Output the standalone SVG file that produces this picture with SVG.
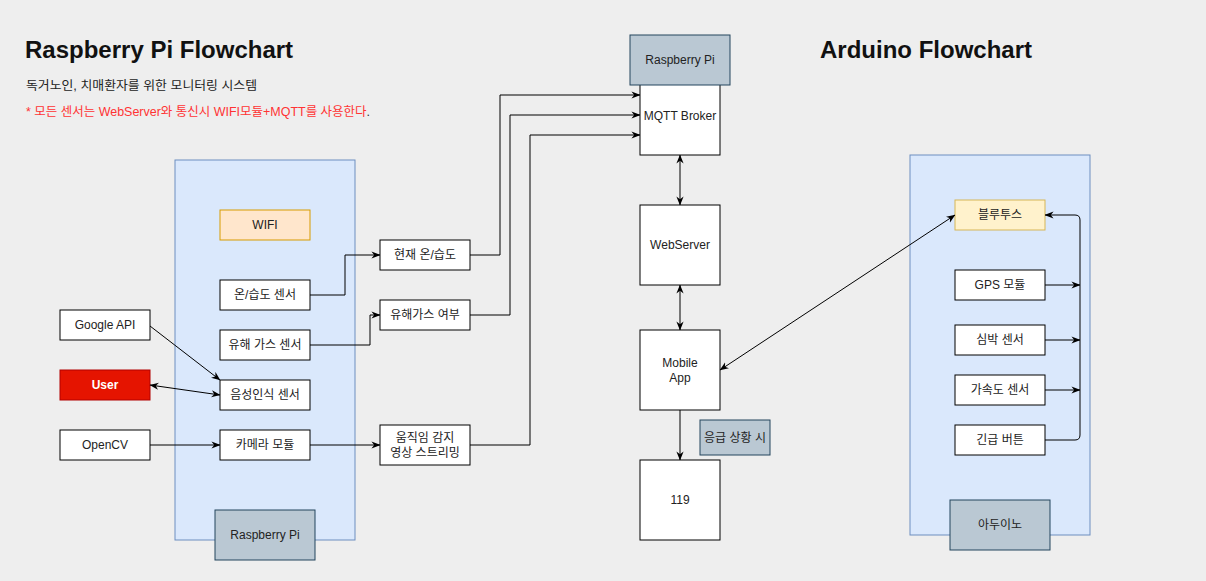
<svg xmlns="http://www.w3.org/2000/svg" width="1206" height="581" viewBox="0 0 1206 581">
<defs>
<marker id="arr" viewBox="0 0 10 10" refX="9.5" refY="5" markerWidth="9" markerHeight="9" markerUnits="userSpaceOnUse" orient="auto-start-reverse">
<path d="M0,1 L10,5 L0,9 L3,5 z" fill="#000"/>
</marker>
<style>
text{font-family:"Liberation Sans","Noto Sans CJK KR",Arial,sans-serif;font-size:12px;fill:#222;}
.lbl{text-anchor:middle;dominant-baseline:central;}
.box{fill:#fff;stroke:#000;stroke-width:1;}
.cont{fill:#dae8fc;stroke:#6c8ebf;stroke-width:1;}
.gray{fill:#bac8d3;stroke:#23445d;stroke-width:1;}
.con{fill:none;stroke:#000;stroke-width:1;}
.title{font-size:24px;font-weight:bold;fill:#111;}
</style>
</defs>
<rect x="0" y="0" width="1206" height="581" fill="#eeeeee"/>

<g id="titles">
<text class="title" x="25" y="58">Raspberry Pi Flowchart</text>
<text class="title" x="820" y="58">Arduino Flowchart</text>
<text x="26" y="90" style="font-size:12.5px" textLength="231" lengthAdjust="spacingAndGlyphs">독거노인, 치매환자를 위한 모니터링 시스템</text>
<text x="26" y="116" style="fill:#ff3333;font-size:12.5px" textLength="344" lengthAdjust="spacingAndGlyphs">* 모든 센서는 WebServer와 통신시 WIFI모듈+MQTT를 사용한다<tspan style="fill:#333">.</tspan></text>
</g>

<g id="rpi-container"><rect class="cont" x="175" y="160" width="180" height="380"/></g>
<g id="ard-container"><rect class="cont" x="910" y="155" width="180" height="380"/></g>

<g id="wifi"><rect x="220" y="210" width="90" height="30" fill="#ffe6cc" stroke="#d79b00"/><text class="lbl" x="265" y="225">WIFI</text></g>
<g id="temp-sensor"><rect class="box" x="220" y="280" width="90" height="30"/><text class="lbl" x="265" y="295">온/습도 센서</text></g>
<g id="gas-sensor"><rect class="box" x="220" y="330" width="90" height="30"/><text class="lbl" x="265" y="345">유해 가스 센서</text></g>
<g id="voice-sensor"><rect class="box" x="220" y="380" width="90" height="30"/><text class="lbl" x="265" y="395">음성인식 센서</text></g>
<g id="camera"><rect class="box" x="220" y="430" width="90" height="30"/><text class="lbl" x="265" y="445">카메라 모듈</text></g>
<g id="google-api"><rect class="box" x="60" y="310" width="90" height="30"/><text class="lbl" x="105" y="325">Google API</text></g>
<g id="user"><rect x="60" y="370" width="90" height="30" fill="#e51400" stroke="#b20000"/><text class="lbl" x="105" y="385" style="fill:#fff;font-weight:bold">User</text></g>
<g id="opencv"><rect class="box" x="60" y="430" width="90" height="30"/><text class="lbl" x="105" y="445">OpenCV</text></g>
<g id="rpi-label"><rect class="gray" x="215" y="510" width="100" height="50"/><text class="lbl" x="265" y="535">Raspberry Pi</text></g>

<g id="cur-temp"><rect class="box" x="380" y="240" width="90" height="30"/><text class="lbl" x="425" y="255">현재 온/습도</text></g>
<g id="gas-status"><rect class="box" x="380" y="300" width="90" height="30"/><text class="lbl" x="425" y="315">유해가스 여부</text></g>
<g id="motion"><rect class="box" x="380" y="425" width="90" height="40"/><text class="lbl" x="425" y="438">움직임 감지</text><text class="lbl" x="425" y="453">영상 스트리밍</text></g>

<g id="mqtt"><rect class="box" x="640" y="75" width="80" height="80"/><text class="lbl" x="680" y="116">MQTT Broker</text></g>
<g id="rpi-top"><rect class="gray" x="630" y="35" width="100" height="50"/><text class="lbl" x="680" y="60">Raspberry Pi</text></g>
<g id="webserver"><rect class="box" x="640" y="205" width="80" height="80"/><text class="lbl" x="680" y="245">WebServer</text></g>
<g id="mobile"><rect class="box" x="640" y="330" width="80" height="80"/><text class="lbl" x="680" y="363">Mobile</text><text class="lbl" x="680" y="378">App</text></g>
<g id="n119"><rect class="box" x="640" y="460" width="80" height="80"/><text class="lbl" x="680" y="500">119</text></g>
<g id="emergency"><rect class="gray" x="700" y="420" width="70" height="35"/><text class="lbl" x="735" y="438">응급 상황 시</text></g>

<g id="bluetooth"><rect x="955" y="200" width="90" height="30" fill="#fff2cc" stroke="#d6b656"/><text class="lbl" x="1000" y="215">블루투스</text></g>
<g id="gps"><rect class="box" x="955" y="270" width="90" height="30"/><text class="lbl" x="1000" y="285">GPS 모듈</text></g>
<g id="heart"><rect class="box" x="955" y="325" width="90" height="30"/><text class="lbl" x="1000" y="340">심박 센서</text></g>
<g id="accel"><rect class="box" x="955" y="375" width="90" height="30"/><text class="lbl" x="1000" y="390">가속도 센서</text></g>
<g id="button"><rect class="box" x="955" y="425" width="90" height="30"/><text class="lbl" x="1000" y="440">긴급 버튼</text></g>
<g id="arduino-label"><rect class="gray" x="950" y="500" width="100" height="50"/><text class="lbl" x="1000" y="525">아두이노</text></g>

<g id="connectors">
<path class="con" d="M310,295 H345 V255 H380" marker-end="url(#arr)"/>
<path class="con" d="M310,345 H370 V315 H380" marker-end="url(#arr)"/>
<path class="con" d="M150,326 L220,380" marker-end="url(#arr)"/>
<path class="con" d="M150,385 L220,395" marker-start="url(#arr)" marker-end="url(#arr)"/>
<path class="con" d="M150,445 H220" marker-end="url(#arr)"/>
<path class="con" d="M310,445 H380" marker-end="url(#arr)"/>
<path class="con" d="M470,255 H500 V95 H640" marker-end="url(#arr)"/>
<path class="con" d="M470,315 H510 V115 H640" marker-end="url(#arr)"/>
<path class="con" d="M470,445 H530 V135 H640" marker-end="url(#arr)"/>
<path class="con" d="M680,155 V205" marker-start="url(#arr)" marker-end="url(#arr)"/>
<path class="con" d="M680,285 V330" marker-start="url(#arr)" marker-end="url(#arr)"/>
<path class="con" d="M680,410 V460" marker-end="url(#arr)"/>
<path class="con" d="M720,370 L955,215" marker-start="url(#arr)" marker-end="url(#arr)"/>
<path class="con" d="M1045,440 H1075 Q1080,440 1080,435 V220 Q1080,215 1075,215 H1045" marker-end="url(#arr)"/>
<path class="con" d="M1045,285 H1080" marker-end="url(#arr)"/>
<path class="con" d="M1045,340 H1080" marker-end="url(#arr)"/>
<path class="con" d="M1045,390 H1080" marker-end="url(#arr)"/>
</g>
</svg>
